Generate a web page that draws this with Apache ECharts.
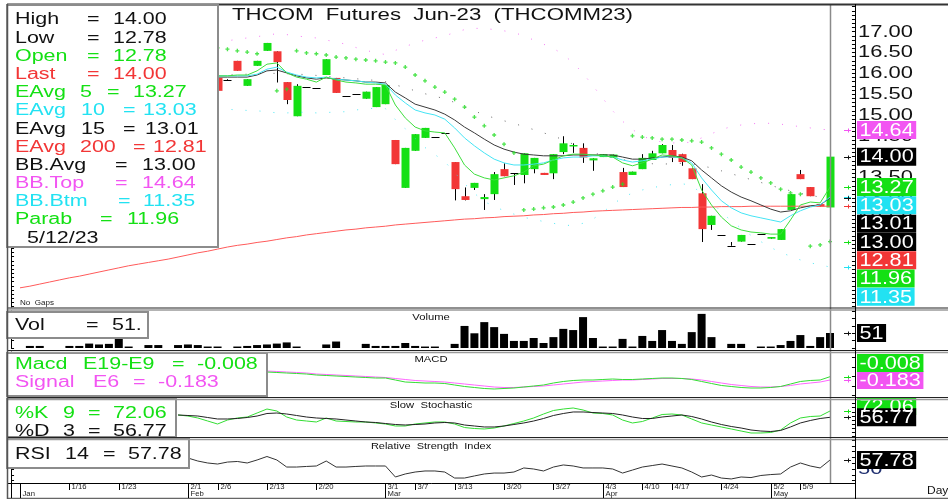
<!DOCTYPE html>
<html>
<head>
<meta charset="utf-8">
<title>THCOM Futures Jun-23 (THCOMM23)</title>
<script src="https://cdn.jsdelivr.net/npm/echarts@6/dist/echarts.min.js"></script>
<style>
  html, body { margin: 0; padding: 0; background: #fff; }
  #chart { width: 948px; height: 499px; }
</style>
</head>
<body>
<div id="chart"></div>
<script>
// trading days shown on the chart
const dates = [
  '1/9','1/10','1/11','1/12','1/13','1/16','1/17','1/18','1/19','1/20','1/23','1/24','1/25','1/26','1/27','1/30','1/31',
  '2/1','2/2','2/3','2/6','2/7','2/8','2/9','2/10','2/13','2/14','2/15','2/16','2/17','2/20','2/21','2/22','2/23','2/24','2/27','2/28',
  '3/1','3/2','3/3','3/7','3/8','3/9','3/10','3/13','3/14','3/15','3/16','3/17','3/20','3/21','3/22','3/23','3/24','3/27','3/28','3/29','3/30','3/31',
  '4/3','4/4','4/5','4/7','4/10','4/11','4/12','4/17','4/18','4/19','4/20','4/21','4/24','4/25','4/26','4/27','4/28',
  '5/2','5/3','5/8','5/9','5/10','5/11','5/12'
];

// candles (bars before 2/6 sit behind the legend box)
const firstBar = 20;
const opens = [15.89,15.84,16.30,15.70,16.18,16.54,16.53,15.79,14.97,15.67, 15.66,15.96,15.89,15.45,15.50,15.39,15.19,15.26,14.40,13.25,
  14.14,14.45,14.47,14.56,13.87,13.05,13.25,12.98,13.10,13.70, 13.60,13.56,13.70,13.61,13.60,14.11,14.25,14.21,13.91,13.99,
  13.98,13.63,13.56,13.70,13.92,14.08,14.16,14.06,13.72,13.12, 12.36,12.12,11.86,11.96,11.90,12.14,12.03,12.00,12.72,13.58, 13.27,12.86,12.78];
const highs = [15.89,15.86,16.30,15.86,16.30,16.73,16.53,15.79,15.74,15.67, 15.66,16.34,15.89,15.45,15.50,15.56,15.67,15.72,14.40,14.21,
  14.54,14.69,14.47,14.56,13.87,13.26,13.37,13.10,13.63,13.84, 13.60,14.08,13.97,13.61,14.06,14.49,14.32,14.32,13.96,14.06,
  14.05,13.73,13.64,14.06,14.14,14.30,14.28,14.07,13.72,13.34, 12.58,12.12,11.95,12.12,11.90,12.14,12.07,12.26,13.10,13.68, 13.27,12.86,14.00];
const lows = [15.58,15.82,16.06,15.70,16.18,16.54,15.78,15.26,14.97,15.67, 15.66,15.96,15.53,15.45,15.50,15.39,15.19,15.26,13.82,13.25,
  14.14,14.45,14.47,14.56,12.95,12.95,13.20,12.72,12.96,13.53, 13.32,13.36,13.60,13.56,13.46,14.06,14.09,13.85,13.66,13.99,
  13.98,13.27,13.56,13.70,13.92,14.08,13.87,13.78,13.46,11.95, 12.24,12.12,11.86,11.96,11.90,12.14,12.03,12.00,12.72,13.46, 13.05,12.80,12.78];
const closes = [15.58,15.84,16.06,15.86,16.30,16.73,16.27,15.36,15.70,15.67, 15.66,16.34,15.53,15.45,15.50,15.56,15.67,15.72,13.82,14.21,
  14.54,14.69,14.47,14.56,13.22,12.96,13.37,13.03,13.58,13.53, 13.60,14.08,13.97,13.56,14.06,14.32,14.28,13.98,13.96,14.06,
  14.05,13.27,13.64,13.97,14.08,14.28,13.97,13.87,13.46,12.26, 12.58,12.12,11.86,12.12,11.90,12.14,12.07,12.26,13.10,13.46, 13.05,12.80,14.00];

const volumes = [0,7,7,0,0,7,7,15,12,14, 31,5,0,10,10,0,10,12,10,5, 5,0,5,7,10,12,15,19,5,0, 0,12,22,0,0,14,7,7,7,17,
  7,5,5,0,14,75,50,88,71,48, 24,24,34,17,37,65,61,105,34,5, 5,31,5,41,24,61,24,14,54,116, 37,0,14,14,0,5,5,10,24,44, 7,37,51];

// moving averages from 2/6 on
const ema5 = [15.94,15.94,15.96,15.96,16.06,16.22,16.25,16.01,15.91,15.86, 15.79,15.91,15.84,15.79,15.77,15.74,15.74,15.72,15.24,14.93,
  14.71,14.62,14.59,14.57,14.21,13.80,13.58,13.49,13.44,13.49, 13.54,13.63,13.78,13.82,13.92,14.02,14.06,14.06,14.04,14.02,
  13.99,13.85,13.78,13.85,13.94,14.04,14.02,13.97,13.80,13.20, 12.84,12.55,12.34,12.24,12.19,12.17,12.14,12.14,12.48,12.84, 12.91,12.89,13.27];
const ema10 = [15.94,15.94,15.94,15.94,15.98,16.10,16.15,16.03,15.96,15.91, 15.89,15.91,15.86,15.84,15.82,15.79,15.77,15.74,15.48,15.29,
  15.12,15.05,15.00,14.90,14.69,14.45,14.26,14.09,13.94,13.85, 13.80,13.80,13.82,13.85,13.92,13.97,13.99,13.99,14.02,14.02,
  13.99,13.92,13.87,13.90,13.94,13.99,13.99,13.97,13.85,13.49, 13.20,12.94,12.77,12.65,12.58,12.53,12.48,12.43,12.58,12.70, 12.79,12.84,13.03];
const ema15 = [15.91,15.91,15.91,15.91,15.96,16.06,16.08,16.01,15.94,15.89, 15.86,15.89,15.86,15.84,15.82,15.79,15.79,15.77,15.55,15.41,
  15.26,15.19,15.12,15.02,14.88,14.71,14.57,14.42,14.28,14.18, 14.11,14.06,14.04,14.02,14.02,14.02,14.04,14.04,14.04,14.04,
  14.04,13.99,13.94,13.94,13.97,13.99,14.02,13.99,13.90,13.68, 13.49,13.30,13.15,13.03,12.94,12.84,12.74,12.67,12.70,12.77, 12.82,12.84,13.01];
// long average, visible over the whole range
const ema200 = [10.85,10.89,10.94,10.99,11.04,11.09,11.13,11.18,11.23,11.28, 11.33,11.38,11.42,11.46,11.50,11.54,11.59,11.64,11.69,11.73,
  11.78,11.83,11.87,11.90,11.94,11.97,12.01,12.05,12.08,12.12, 12.15,12.18,12.21,12.24,12.26,12.29,12.31,12.33,12.36,12.38,
  12.40,12.42,12.44,12.46,12.48,12.50,12.51,12.53,12.54,12.56, 12.57,12.58,12.60,12.61,12.63,12.64,12.66,12.67,12.69,12.70,
  12.71,12.72,12.73,12.74,12.75,12.76,12.77,12.78,12.78,12.79, 12.79,12.80,12.80,12.80,12.81,12.81,12.81,12.81,12.81,12.81, 12.81,12.81,12.81];

// bollinger bands and parabolic SAR from 2/6 on
const bbTop = [16.75,16.78,16.82,16.85,16.88,16.92,16.95,16.93,16.90,16.87, 16.85,16.80,16.75,16.70,16.62,16.55,16.50,16.45,16.55,16.65,
  16.72,16.80,16.85,16.90,16.98,17.05,17.08,17.08,17.05,17.02, 16.98,16.90,16.80,16.70,16.60,16.45,16.25,16.00,15.70,15.40,
  15.10,14.85,14.65,14.50,14.40,14.35,14.33,14.33,14.35,14.45, 14.55,14.65,14.72,14.76,14.79,14.80,14.80,14.78,14.75,14.72, 14.69,14.66,14.64];
const bbAvg = [15.95,15.96,15.97,15.98,15.99,16.00,16.00,15.99,15.98,15.97, 15.95,15.93,15.91,15.89,15.87,15.85,15.83,15.80,15.72,15.66,
  15.58,15.51,15.45,15.39,15.30,15.20,15.10,15.00,14.93,14.86, 14.80,14.72,14.65,14.57,14.50,14.40,14.30,14.20,14.10,14.03,
  13.98,13.93,13.89,13.85,13.83,13.82,13.83,13.84,13.83,13.78, 13.73,13.66,13.59,13.52,13.45,13.38,13.31,13.24,13.18,13.12, 13.07,13.03,13.00];
const bbBtm = [15.15,15.14,15.12,15.11,15.10,15.08,15.05,15.05,15.06,15.07, 15.05,15.06,15.07,15.08,15.12,15.15,15.16,15.15,14.89,14.67,
  14.44,14.22,14.05,13.88,13.62,13.35,13.12,12.92,12.81,12.70, 12.62,12.54,12.50,12.44,12.40,12.35,12.35,12.40,12.50,12.66,
  12.86,13.01,13.13,13.20,13.26,13.29,13.33,13.35,13.31,13.11, 12.91,12.67,12.46,12.28,12.11,11.96,11.82,11.70,11.61,11.52, 11.45,11.40,11.35];
const sar = [16.61,16.58,16.54,16.51,16.47,'-',15.58,15.62,16.54,16.49, 16.47,16.44,16.39,16.37,16.34,16.32,16.30,16.27,16.25,16.15,
  15.96,15.82,15.67,15.55,15.38,15.19,14.95,14.74,14.52,14.30, 14.09,12.72,12.74,12.77,12.79,12.84,12.91,13.01,13.10,13.18,
  13.27,13.34,14.50,14.47,14.45,14.42,14.42,14.40,14.38,14.35, 14.21,14.06,13.92,13.75,13.63,13.49,13.37,13.22,13.13,13.10, 11.85,11.88,11.96];

// MACD from 2/13 on
const macdStart = 25;
const macd = [0.241,0.215,0.188,0.162,0.135, 0.082,0.056,0.029,0.003,-0.024, -0.050,-0.077,-0.077,-0.183,-0.289, -0.315,-0.342,-0.342,-0.368,-0.448,
  -0.527,-0.580,-0.633,-0.660,-0.633, -0.607,-0.554,-0.501,-0.448,-0.342, -0.262,-0.209,-0.183,-0.183,-0.156, -0.130,-0.156,-0.156,-0.130,-0.103,
  -0.077,-0.077,-0.103,-0.156,-0.262, -0.368,-0.474,-0.527,-0.580,-0.607, -0.607,-0.580,-0.527,-0.395,-0.262, -0.209,-0.183,-0.008];
const macdSignal = [0.294,0.268,0.241,0.215,0.188, 0.135,0.109,0.082,0.056,0.029, 0.003,-0.024,-0.050,-0.103,-0.156, -0.209,-0.236,-0.262,-0.289,-0.342,
  -0.395,-0.448,-0.501,-0.554,-0.580, -0.580,-0.554,-0.527,-0.501,-0.448, -0.395,-0.342,-0.289,-0.262,-0.236, -0.209,-0.183,-0.183,-0.156,-0.130,
  -0.103,-0.103,-0.103,-0.130,-0.183, -0.262,-0.342,-0.421,-0.474,-0.527, -0.554,-0.554,-0.527,-0.474,-0.395, -0.342,-0.289,-0.183];

// slow stochastic from 1/31 on
const stochStart = 16;
const stochK = [62.4,59.9,55.1,47.8,40.5,50.2,55.1,57.5,67.2,76.9, 72.1,57.5,50.2,47.8,45.4,55.1,47.8,46.6,45.4,45.4,
  43.0,40.5,35.7,35.7,40.5,43.0,45.4,45.4,40.5,32.0, 29.6,28.4,30.8,35.7,41.7,47.8,55.1,64.8,73.3,76.9,
  79.4,74.5,67.2,66.0,62.4,50.2,43.0,46.6,55.1,63.6, 64.8,62.4,52.7,43.0,38.1,33.3,28.4,23.5,18.7,18.7, 19.9,26.0,43.0,55.1,58.7,59.9,72.06];
const stochD = [62.4,61.2,59.9,56.3,52.7,52.7,53.9,56.3,59.9,66.0, 67.2,64.8,61.2,57.5,55.1,53.9,52.7,50.2,47.8,45.4,
  44.2,41.7,39.3,38.1,39.3,40.5,43.0,44.2,43.0,38.1, 35.7,33.3,33.3,35.7,39.3,43.0,47.8,53.9,61.2,66.0,
  69.7,69.7,68.4,67.2,66.0,62.4,57.5,53.9,53.9,57.5, 59.9,62.4,58.7,52.7,45.4,39.3,34.5,30.8,26.0,23.5, 22.3,24.8,33.3,43.0,49.0,53.9,56.77];

// RSI 14 from 2/1 on
const rsiStart = 17;
const rsi = [59.5,56.9,55.2,54.3,56.0,56.5,55.2,57.8,60.8,57.8, 51.7,51.7,52.2,52.6,56.9,51.7,51.7,52.2,52.6,52.6,
  52.6,43.1,45.7,47.4,48.3,48.3,47.4,42.2,42.2,44.0, 45.7,46.5,46.5,47.4,50.9,50.0,48.3,51.7,53.5,52.6,
  50.9,50.9,50.9,50.0,46.5,49.1,51.7,53.0,54.3,52.6, 50.9,47.4,43.1,44.8,42.2,41.4,43.1,42.6,44.4,45.2, 45.7,51.7,55.2,52.6,50.9,57.78];

// axis labels
const priceLabels = [17, 16.5, 16, 15.5, 15, 14.5, 14, 13.5, 13, 12.5, 12, 11.5, 11];
const weekTicks = ['1/16','1/23','2/1','2/6','2/13','2/20','3/1','3/7','3/13','3/20','3/27','4/3','4/10','4/17','4/24','5/2','5/9'];
const monthTicks = [['1/9','Jan'],['2/1','Feb'],['3/1','Mar'],['4/3','Apr'],['5/2','May']];

// ---------------------------------------------------------------
const FONT = '"Liberation Sans", Arial, sans-serif';
const GREEN = '#14e014', RED = '#f23636', CYAN = '#22e2f2', MAG = '#f255f2', BLACK = '#111';
const last = dates.length - 1;
const lastOf = a => a[a.length - 1];
const pad = (arr, start) => dates.map((d, i) => (i < start || i - start >= arr.length) ? '-' : arr[i - start]);

const chart = echarts.init(document.getElementById('chart'));

const gridLeft = 15.06, gridWidth = 819.9;
const panels = [[5, 302], [311, 37], [352, 45], [399.5, 41.2], [438, 45]];
const ranges = [[10.39, 17.641], [0, 125.8], [-1.084, 1.301], [0, 100], [37.91, 76.79]];
const tickSets = [
  Array.from({ length: 73 }, (_, k) => +(10.4 + k * 0.1).toFixed(1)),
  [0, 25, 50, 75, 100, 125],
  [-1, -0.5, 0, 0.5, 1],
  [10, 20, 30, 40, 50, 60, 70, 80, 90, 100],
  [40, 45, 50, 55, 60, 65, 70, 75]
];

const grid = panels.map(([top, height]) => ({ left: gridLeft, width: gridWidth, top, height }));
const xAxis = panels.map((p, g) => ({
  type: 'category', gridIndex: g, data: dates, boundaryGap: true, show: false
}));
const yAxis = [];
panels.forEach((p, g) => {
  ['right', 'left'].forEach(pos => {
    yAxis.push({
      type: 'value', gridIndex: g, position: pos, offset: pos === 'right' ? 20 : 4,
      min: ranges[g][0], max: ranges[g][1],
      axisLine: { show: true, lineStyle: { color: '#000', width: 1 } },
      axisTick: { show: true, inside: true, length: 3, lineStyle: { color: '#000' }, customValues: tickSets[g] },
      axisLabel: { show: false }, splitLine: { show: false }
    });
  });
});

const candleData = [];
opens.forEach((o, k) => candleData.push([firstBar + k, o, closes[k], lows[k], highs[k]]));

function renderCandle(params, api) {
  const i = api.value(0), o = api.value(1), c = api.value(2), l = api.value(3), h = api.value(4);
  const pO = api.coord([i, o]), pC = api.coord([i, c]), pH = api.coord([i, h]), pL = api.coord([i, l]);
  const cx = Math.round(pO[0]) + 0.5;
  const kids = [];
  if (h > l) kids.push({ type: 'line', shape: { x1: cx, y1: pH[1], x2: cx, y2: pL[1] }, style: { stroke: '#000', lineWidth: 1 } });
  if (o === c) {
    const y = Math.round(pO[1]) + 0.5;
    kids.push({ type: 'line', shape: { x1: cx - 4, y1: y, x2: cx + 4, y2: y }, style: { stroke: '#000', lineWidth: 1 } });
  } else {
    const y1 = Math.min(pO[1], pC[1]), y2 = Math.max(pO[1], pC[1]);
    kids.push({ type: 'rect', shape: { x: cx - 4, y: y1, width: 8, height: Math.max(1.5, y2 - y1) }, style: { fill: c > o ? GREEN : RED } });
  }
  return { type: 'group', children: kids };
}

function line(data, color, g, z, extra) {
  return Object.assign({
    type: 'line', xAxisIndex: g, yAxisIndex: g * 2, data, symbol: 'none', z,
    lineStyle: { color, width: 1 }, connectNulls: false, silent: true
  }, extra || {});
}

const series = [
  { type: 'custom', xAxisIndex: 0, yAxisIndex: 0, renderItem: renderCandle, data: candleData, z: 3,
    encode: { x: 0, y: [1, 2, 3, 4] }, silent: true },
  line(pad(bbTop, firstBar), MAG, 0, 4, { lineStyle: { color: MAG, width: 1, type: [1, 13], opacity: 0.8 } }),
  line(pad(bbAvg, firstBar), '#444', 0, 4, { lineStyle: { color: '#444', width: 1, type: [1, 13], opacity: 0.8 } }),
  line(pad(bbBtm, firstBar), CYAN, 0, 4, { lineStyle: { color: CYAN, width: 1, type: [1, 13], opacity: 0.8 } }),
  line(ema200, '#ff5a5a', 0, 5),
  line(pad(ema15, firstBar), '#3a3a3a', 0, 5),
  line(pad(ema10, firstBar), '#44e4f4', 0, 5),
  line(pad(ema5, firstBar), '#3ede3e', 0, 5),
  { type: 'scatter', xAxisIndex: 0, yAxisIndex: 0, data: pad(sar, firstBar), z: 6, silent: true,
    symbol: 'path://M-1,-3H1V-1H3V1H1V3H-1V1H-3V-1H-1Z', symbolSize: 4, itemStyle: { color: '#22dd22' } },
  { type: 'bar', xAxisIndex: 1, yAxisIndex: 2, data: volumes, barWidth: 8, itemStyle: { color: '#000' }, silent: true },
  line(pad(macdSignal, macdStart), '#ff66ff', 2, 4),
  line(pad(macd, macdStart), '#33dd33', 2, 5),
  line(pad(stochK, stochStart), '#33dd33', 3, 4),
  line(pad(stochD, stochStart), '#222', 3, 5),
  line(pad(rsi, rsiStart), '#333', 4, 5)
];

chart.setOption({ animation: false, grid, xAxis, yAxis, series });

// ---------------- overlay: frames, legends, value boxes ----------------
const ctx = document.createElement('canvas').getContext('2d');
function textW(s, size) { ctx.font = size + 'px ' + FONT; return ctx.measureText(s).width; }
const xPx = i => chart.convertToPixel({ xAxisIndex: 0 }, i);
const yPx = (axis, v) => chart.convertToPixel({ yAxisIndex: axis }, v);

const els = [];
function hline(x1, x2, y, color, w, z) { els.push({ type: 'line', z: z || 60, silent: true, shape: { x1, y1: y, x2, y2: y }, style: { stroke: color, lineWidth: w } }); }
function vline(x, y1, y2, color, w, z) { els.push({ type: 'line', z: z || 60, silent: true, shape: { x1: x, y1, x2: x, y2 }, style: { stroke: color, lineWidth: w } }); }
function rect(x, y, w, h, fill, stroke, z) { els.push({ type: 'rect', z: z || 100, silent: true, shape: { x, y, width: w, height: h }, style: { fill, stroke: stroke || null, lineWidth: stroke ? 2 : 0 } }); }
function text(s, x, y, size, color, sx, z, align) {
  els.push({ type: 'text', z: z || 101, silent: true, x, y, scaleX: sx || 1, scaleY: 1,
    style: { text: s, fill: color, font: size + 'px ' + FONT, align: align || 'left', verticalAlign: 'middle' } });
}

// legend boxes
const boxStroke = '#8c8c8c';
rect(7, 5, 211, 242, '#fff', boxStroke);
rect(7, 312, 141, 26, '#fff', boxStroke);
rect(7, 353, 260, 43, '#fff', boxStroke);
rect(7, 399, 169, 38, '#fff', boxStroke);
rect(7, 439, 182, 29, '#fff', boxStroke);

const f2 = v => v.toFixed(2);
const LS = 1.34;
const legendRows = [
  [BLACK, [['High', 15], ['=', 87], [f2(lastOf(highs)), 113]]],
  [BLACK, [['Low', 15], ['=', 87], [f2(lastOf(lows)), 113]]],
  [GREEN, [['Open', 15], ['=', 87], [f2(lastOf(opens)), 113]]],
  [RED, [['Last', 15], ['=', 87], [f2(lastOf(closes)), 113]]],
  [GREEN, [['EAvg', 15], ['5', 80], ['=', 107], [f2(lastOf(ema5)), 133]]],
  [CYAN, [['EAvg', 15], ['10', 81], ['=', 123], [f2(lastOf(ema10)), 143]]],
  [BLACK, [['EAvg', 15], ['15', 81], ['=', 123], [f2(lastOf(ema15)), 145]]],
  [RED, [['EAvg', 15], ['200', 80], ['=', 133], [f2(lastOf(ema200)), 153]]],
  [BLACK, [['BB.Avg', 15], ['=', 115], [f2(lastOf(bbAvg)), 142]]],
  [MAG, [['BB.Top', 15], ['=', 115], [f2(lastOf(bbTop)), 142]]],
  [CYAN, [['BB.Btm', 15], ['=', 118], [f2(lastOf(bbBtm)), 143]]],
  [GREEN, [['Parab', 15], ['=', 100], [f2(lastOf(sar)), 127]]],
  [BLACK, [[dates[last] + '/23', 27]]]
];
legendRows.forEach(([color, parts], k) => {
  parts.forEach(([s, x]) => text(s, x, 20 + k * 18.19, 16, color, LS));
});
text('Vol', 15, 326, 16, BLACK, LS);
text('=', 86, 326, 16, BLACK, LS);
text(lastOf(volumes) + '.', 112, 326, 16, BLACK, LS);
[['Macd', 15], ['E19-E9', 83], ['=', 172], [lastOf(macd).toFixed(3), 197]].forEach(([s, x]) => text(s, x, 365, 16, GREEN, LS));
[['Signal', 15], ['E6', 93], ['=', 133], [lastOf(macdSignal).toFixed(3), 158]].forEach(([s, x]) => text(s, x, 383, 16, MAG, LS));
[['%K', 15], ['9', 63], ['=', 88], [f2(lastOf(stochK)), 113]].forEach(([s, x]) => text(s, x, 414, 16, GREEN, LS));
[['%D', 15], ['3', 63], ['=', 88], [f2(lastOf(stochD)), 113]].forEach(([s, x]) => text(s, x, 432, 16, BLACK, LS));
[['RSI', 15], ['14', 65], ['=', 103], [f2(lastOf(rsi)), 128]].forEach(([s, x]) => text(s, x, 455, 16, BLACK, LS));

// title and panel captions
const title = 'THCOM  Futures  Jun-23  (THCOMM23)';
text(title, 232, 15, 17, BLACK, 401 / textW(title, 17), 40);
const midX = (xPx(0) + xPx(last)) / 2 + 6;
text('Volume', midX, 318, 9, BLACK, 1.25, 40, 'center');
text('MACD', midX, 360, 9, BLACK, 1.25, 40, 'center');
text('Slow  Stochastic', midX, 406, 9, BLACK, 1.25, 40, 'center');
text('Relative  Strength  Index', midX, 447, 9, BLACK, 1.22, 40, 'center');
text('No  Gaps', 20, 303, 7, '#222', 1.15, 40);
text('Day', 927, 491, 10, BLACK, 1.2, 40);

// frame lines
const axisX = 855.5;
hline(7, 948, 4.5, '#333', 2);
[308, 350.5, 397.5, 437.5].forEach(y => { hline(7, 948, y, '#222', 1.2, 120); hline(7, 948, y + 2, '#9a9a9a', 1.5, 120); });
hline(7, axisX, 483.5, '#000', 1, 120);
hline(7, 948, 498.5, '#666', 1.5, 120);
vline(7.5, 4, 499, '#555', 1.5, 120);
vline(axisX, 4, 499, '#000', 1, 120);
vline(11.5, 483, 498, '#000', 1, 120);
const cursorX = Math.round(xPx(last)) + 0.5;
vline(cursorX, 5, 483, '#8a8a8a', 1.5, 55);

// date axis
const idx = d => dates.indexOf(d);
weekTicks.forEach(d => {
  const x = Math.round(xPx(idx(d))) + 0.5;
  vline(x, 483, 490, '#000', 1, 120);
  text(d, x + 2, 487.5, 7, '#222', 1.1, 120);
});
monthTicks.forEach(([d, m]) => {
  const x = Math.round(xPx(idx(d))) + 0.5;
  vline(x, 483, 498, '#000', 1, 120);
  text(m, x + 2, 494.5, 7, '#222', 1.1, 120);
});

// price axis labels
const TS = 1.37;
priceLabels.forEach(v => text(v.toFixed(2), 858, yPx(0, v) + 0.5, 16, BLACK, TS, 90));
text('50', 858, yPx(8, 50) + 1, 16, '#203070', TS, 90);

// value boxes at the right edge
const BS = 1.14, BH = 18;
function valueBox(s, y, bg) {
  const w = textW(s, 19) * BS + 5;
  rect(857, y - BH / 2, w, BH, bg, null, 102);
  text(s, 859.5, y + 0.5, 19, '#fff', BS, 103);
}
function marker(y, color) {
  hline(844, 851, Math.round(y) + 0.5, color, 1, 104);
  vline(848.5, Math.round(y) - 1.5, Math.round(y) + 2.5, color, 1, 104);
}
const mainItems = [
  [lastOf(bbTop), MAG], [lastOf(closes), '#000'], [lastOf(ema5), GREEN], [lastOf(ema10), CYAN],
  [lastOf(ema15), '#000'], [lastOf(bbAvg), '#000'], [lastOf(ema200), RED], [lastOf(sar), GREEN], [lastOf(bbBtm), CYAN]
];
let prevY = -1e9;
mainItems.forEach(([v, c]) => {
  const y = yPx(0, v);
  marker(y, c === '#000' ? '#111' : c);
  const yb = Math.max(y, prevY + 18.3);
  valueBox(f2(v), yb, c);
  prevY = yb;
});
// volume
marker(yPx(2, lastOf(volumes)), '#111');
valueBox(String(lastOf(volumes)), yPx(2, lastOf(volumes)), '#000');
// MACD: stack upward from the lower value
const ySig = yPx(4, lastOf(macdSignal)), yMacd = yPx(4, lastOf(macd));
marker(yMacd, GREEN); marker(ySig, MAG);
valueBox(lastOf(macdSignal).toFixed(3), ySig, MAG);
valueBox(lastOf(macd).toFixed(3), Math.min(yMacd, ySig - 17), GREEN);
// stochastic
const yK = yPx(6, lastOf(stochK)), yD = yPx(6, lastOf(stochD));
marker(yK, GREEN); marker(yD, '#111');
valueBox(f2(lastOf(stochK)), yK - 5, GREEN);
valueBox(f2(lastOf(stochD)), yD, '#000');
// RSI
const yR = yPx(8, lastOf(rsi));
marker(yR, '#111');
valueBox(f2(lastOf(rsi)), yR, '#000');

chart.setOption({ graphic: { elements: els } });
</script>
</body>
</html>
